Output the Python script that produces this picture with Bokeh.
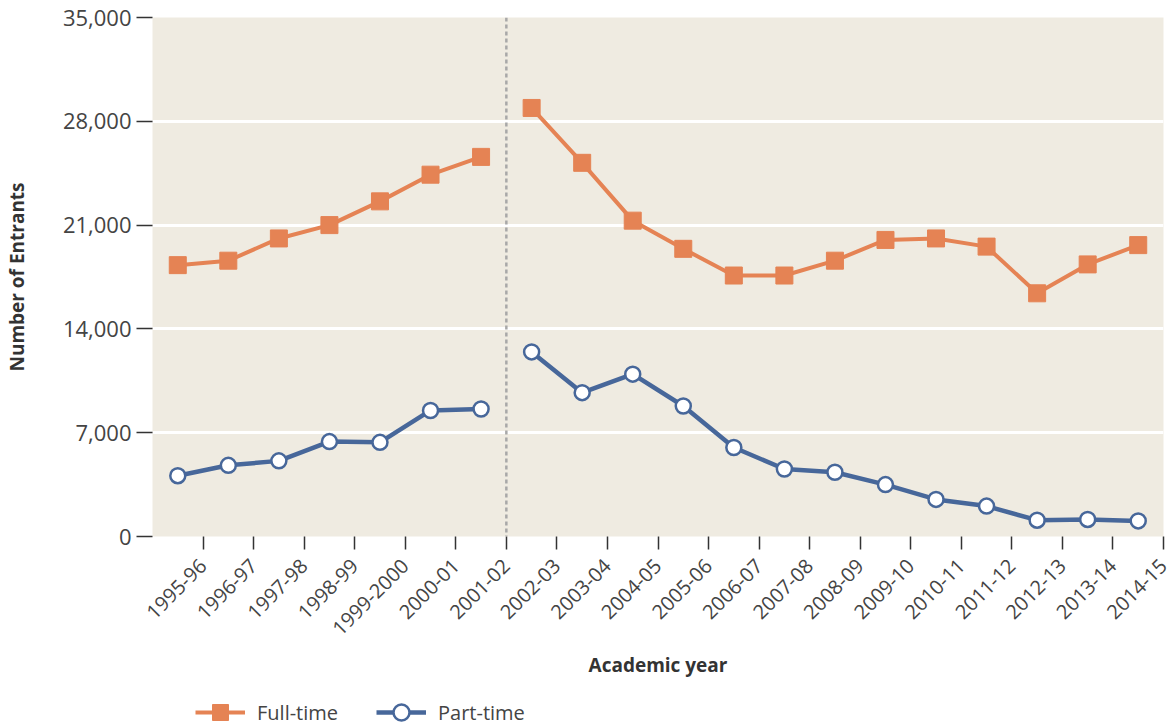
from bokeh.plotting import figure
from bokeh.layouts import column
from bokeh.models import (FixedTicker, NumeralTickFormatter, Span, Legend, LegendItem)
from bokeh.embed import file_html
from bokeh.resources import INLINE
import math

years = ["1995-96", "1996-97", "1997-98", "1998-99", "1999-2000", "2000-01", "2001-02",
         "2002-03", "2003-04", "2004-05", "2005-06", "2006-07", "2007-08", "2008-09",
         "2009-10", "2010-11", "2011-12", "2012-13", "2013-14", "2014-15"]

full_time_a = [18300, 18600, 20100, 21000, 22600, 24400, 25600]
part_time_a = [4100, 4800, 5100, 6400, 6350, 8500, 8600]
full_time_b = [28900, 25200, 21300, 19400, 17600, 17600, 18600, 20000, 20100, 19550, 16400, 18350, 19650]
part_time_b = [12450, 9700, 10950, 8800, 6000, 4550, 4330, 3500, 2500, 2050, 1100, 1150, 1050]

series_names = ["Full-time", "Part-time"]
y_ticks = [0, 7000, 14000, 21000, 28000, 35000]
break_after = "2001-02"

ORANGE = "#E58354"
BLUE = "#47679A"
FONT = "Open Sans"

n = len(years)
xa = [i + 0.5 for i in range(len(full_time_a))]
xb = [i + 0.5 for i in range(len(full_time_a), n)]

p = figure(width=1175, height=680, x_range=(0, n), y_range=(0, 35000),
           output_backend="svg", toolbar_location=None,
           min_border_left=150, min_border_right=12, min_border_top=17, min_border_bottom=143)
p.background_fill_color = "#EFEBE1"
p.border_fill_color = "white"
p.outline_line_color = None

# axes
p.xaxis.ticker = FixedTicker(ticks=list(range(1, n + 1)))
p.xaxis.major_label_overrides = {i + 1: y for i, y in enumerate(years)}
p.xaxis.major_label_orientation = math.pi / 4
p.yaxis.ticker = FixedTicker(ticks=y_ticks)
p.yaxis.formatter = NumeralTickFormatter(format="0,0")

for ax in (p.xaxis[0], p.yaxis[0]):
    ax.axis_line_color = None
    ax.major_tick_line_color = "#333333"
    ax.major_tick_line_width = 1.5
    ax.minor_tick_line_color = None
    ax.major_tick_in = 0
    ax.major_label_text_font = FONT
    ax.major_label_text_color = "#444444"
    ax.axis_label_text_font = FONT
    ax.axis_label_text_font_style = "bold"
    ax.axis_label_text_font_size = "19px"
    ax.axis_label_text_color = "#333333"

p.xaxis.major_label_text_font_size = "20px"
p.yaxis.major_label_text_font_size = "22px"
p.xaxis.major_tick_out = 13
p.xaxis.major_label_standoff = 13
p.xaxis.axis_label = "Academic year"
p.xaxis.axis_label_standoff = 7
p.yaxis.major_tick_out = 16
p.yaxis.major_label_standoff = 5
p.yaxis.axis_label = "Number of Entrants"
p.yaxis.axis_label_standoff = 30

p.xgrid.grid_line_color = None
p.ygrid.ticker = FixedTicker(ticks=y_ticks[1:-1])
p.ygrid.grid_line_color = "white"
p.ygrid.grid_line_width = 3

p.add_layout(Span(location=years.index(break_after) + 1, dimension="height",
                  line_color="#A8A8A8", line_width=2.5, line_dash="4 3"))

ft_line = dict(line_color=ORANGE, line_width=4)
ft_mark = dict(marker="square", size=17, fill_color=ORANGE, line_color=ORANGE)
pt_line = dict(line_color=BLUE, line_width=4.5)
pt_mark = dict(marker="circle", size=15, fill_color="white", line_color=BLUE, line_width=2.5)

p.line(xa, full_time_a, **ft_line)
p.line(xb, full_time_b, **ft_line)
p.scatter(xa, full_time_a, **ft_mark)
p.scatter(xb, full_time_b, **ft_mark)
p.line(xa, part_time_a, **pt_line)
p.line(xb, part_time_b, **pt_line)
p.scatter(xa, part_time_a, **pt_mark)
p.scatter(xb, part_time_b, **pt_mark)

# legend strip below the chart (proxy renderers lie outside its visible range)
lg = figure(width=1175, height=46, x_range=(0, n), y_range=(-2, -1),
            output_backend="svg", toolbar_location=None,
            min_border_left=150, min_border_right=12, min_border_top=0, min_border_bottom=0)
lg.axis.visible = False
lg.grid.visible = False
lg.outline_line_color = None
lg.background_fill_color = "white"
r1 = lg.line(xa, full_time_a, **ft_line)
r2 = lg.scatter(xa, full_time_a, **ft_mark)
r3 = lg.line(xa, part_time_a, **pt_line)
r4 = lg.scatter(xa, part_time_a, **pt_mark)
legend = Legend(items=[LegendItem(label=series_names[0], renderers=[r1, r2]),
                       LegendItem(label=series_names[1], renderers=[r3, r4])],
                orientation="horizontal", location=(43, -6),
                padding=0, margin=0, spacing=38,
                glyph_width=50, glyph_height=40, label_standoff=12, label_height=24,
                label_text_font=FONT, label_text_font_size="20px", label_text_color="#444444",
                border_line_color=None, background_fill_alpha=0)
lg.add_layout(legend, "center")

layout = column(p, lg, spacing=0)
open("out.html", "w").write(file_html(layout, INLINE))
